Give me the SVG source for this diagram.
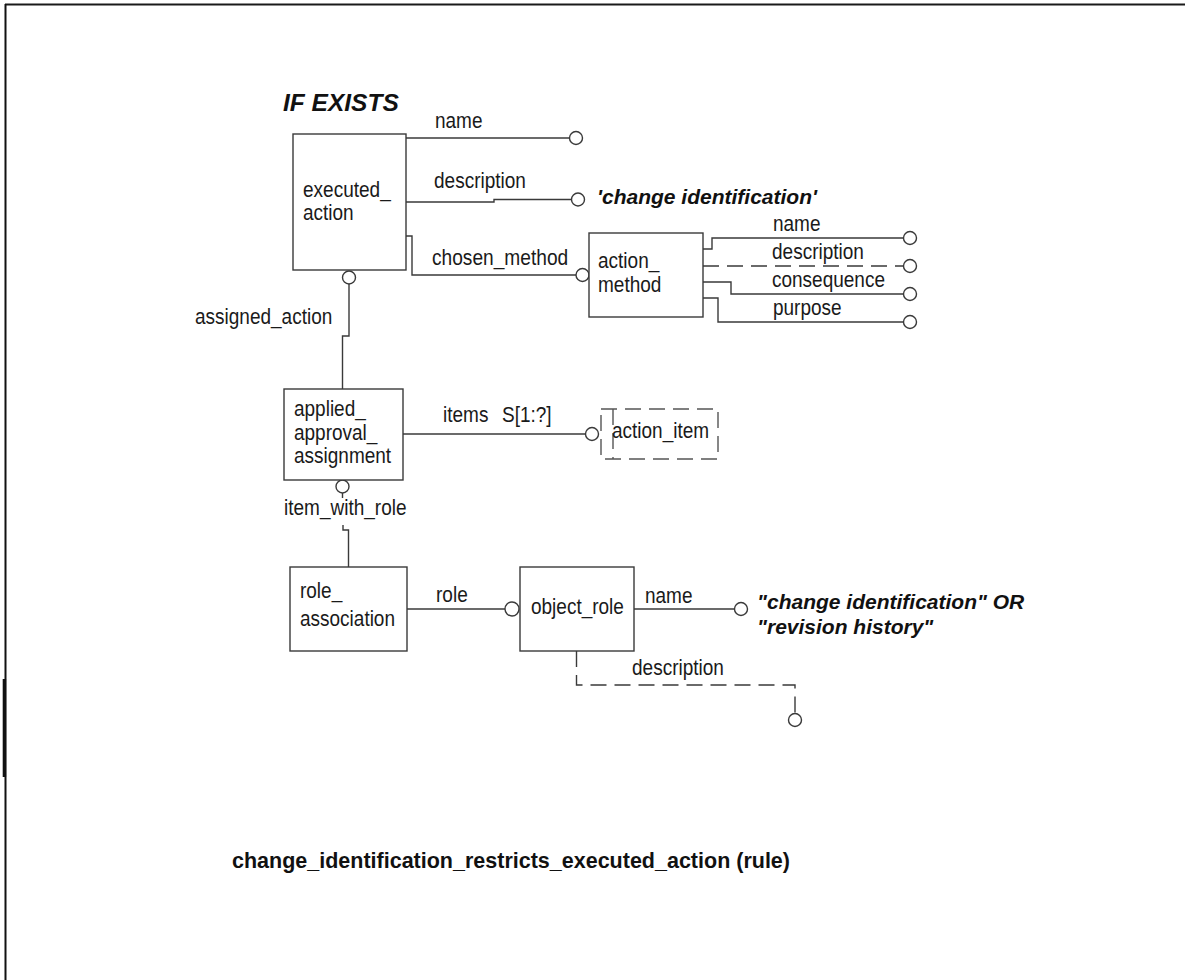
<svg xmlns="http://www.w3.org/2000/svg" width="1185" height="980" viewBox="0 0 1185 980">
  <style>
    .box { fill: #ffffff; stroke: #3a3a3a; stroke-width: 1.4; }
    .sel { fill: none; stroke: #555555; stroke-width: 1.4; stroke-dasharray: 16 8; }
    .ln { fill: none; stroke: #3a3a3a; stroke-width: 1.4; }
    .dash { stroke-dasharray: 16 8; }
    .end { fill: #ffffff; stroke: #3a3a3a; stroke-width: 1.4; }
    .t { font-family: "Liberation Sans Narrow", "Liberation Sans", Arial, sans-serif; font-size: 22px; fill: #1a1a1a; }
    .bi { font-family: "Liberation Sans", Arial, sans-serif; font-size: 21px; font-weight: bold; font-style: italic; fill: #111111; }
    .hdr { font-family: "Liberation Sans", Arial, sans-serif; font-size: 24.5px; font-weight: bold; font-style: italic; fill: #111111; }
    .cap { font-family: "Liberation Sans", Arial, sans-serif; font-size: 21.5px; font-weight: bold; fill: #111111; }
  </style>

  <rect width="1185" height="980" fill="#ffffff"/>

  <!-- page frame -->
  <g id="frame">
    <line x1="5" y1="4.5" x2="1185" y2="4.5" stroke="#1a1a1a" stroke-width="2"/>
    <line x1="5.5" y1="4" x2="5.5" y2="980" stroke="#111111" stroke-width="2"/>
    <rect x="2.7" y="679" width="3.4" height="98" fill="#111111"/>
  </g>

  <text class="hdr" x="283" y="111">IF EXISTS</text>

  <!-- connectors -->
  <g id="connectors">
    <path class="ln" d="M406,138 H569.5"/>
    <path class="ln" d="M406,202 H494 V199.5 H571.5"/>
    <path class="ln" d="M406,236 H412 V275 H576"/>
    <path class="ln" d="M349,284 V336 H342.5 V389"/>
    <path class="ln" d="M703,249 H712 V238 H903.5"/>
    <path class="ln dash" d="M703,266 H903.5"/>
    <path class="ln" d="M703,282 H731 V294 H903.5"/>
    <path class="ln" d="M703,298 H718 V322 H903.5"/>
    <path class="ln" d="M403,434 H585.5"/>
    <path class="ln" d="M342.5,493 V498"/>
    <path class="ln" d="M343,525 V530 H348.5 V567"/>
    <path class="ln" d="M407,609 H505"/>
    <path class="ln" d="M634,609 H734.5"/>
    <path class="ln dash" d="M576.5,651 V685 H795 V713.5"/>

    <circle class="end" cx="576" cy="138" r="6.5"/>
    <circle class="end" cx="578" cy="199.5" r="6.5"/>
    <circle class="end" cx="582.5" cy="275" r="6.5"/>
    <circle class="end" cx="349" cy="277.5" r="6.5"/>
    <circle class="end" cx="910" cy="238" r="6.5"/>
    <circle class="end" cx="910" cy="266" r="6.5"/>
    <circle class="end" cx="910" cy="294" r="6.5"/>
    <circle class="end" cx="910" cy="322" r="6.5"/>
    <circle class="end" cx="592" cy="434" r="6.5"/>
    <circle class="end" cx="342.5" cy="486.5" r="6.5"/>
    <circle class="end" cx="512" cy="609" r="7"/>
    <circle class="end" cx="741" cy="609" r="6.5"/>
    <circle class="end" cx="795" cy="720" r="6.5"/>

    <!-- attribute and role labels -->
    <text class="t" x="435" y="128" textLength="47.5" lengthAdjust="spacingAndGlyphs">name</text>
    <text class="t" x="434" y="188" textLength="91.9" lengthAdjust="spacingAndGlyphs">description</text>
    <text class="t" x="432" y="265" textLength="136.2" lengthAdjust="spacingAndGlyphs">chosen_method</text>
    <text class="t" x="195" y="324" textLength="137.3" lengthAdjust="spacingAndGlyphs">assigned_action</text>
    <text class="t" x="773" y="231" textLength="47.5" lengthAdjust="spacingAndGlyphs">name</text>
    <text class="t" x="772" y="259" textLength="91.9" lengthAdjust="spacingAndGlyphs">description</text>
    <text class="t" x="772" y="287" textLength="113" lengthAdjust="spacingAndGlyphs">consequence</text>
    <text class="t" x="773" y="315" textLength="68.6" lengthAdjust="spacingAndGlyphs">purpose</text>
    <text class="t" x="443" y="422" textLength="45.4" lengthAdjust="spacingAndGlyphs">items</text>
    <text class="t" x="502" y="422" textLength="49.6" lengthAdjust="spacingAndGlyphs">S[1:?]</text>
    <text class="t" x="284" y="515" textLength="122.5" lengthAdjust="spacingAndGlyphs">item_with_role</text>
    <text class="t" x="436" y="602" textLength="31.7" lengthAdjust="spacingAndGlyphs">role</text>
    <text class="t" x="645" y="603" textLength="47.5" lengthAdjust="spacingAndGlyphs">name</text>
    <text class="t" x="632" y="675" textLength="91.9" lengthAdjust="spacingAndGlyphs">description</text>

    <!-- constrained values -->
    <text class="bi" x="597" y="204">'change identification'</text>
    <text class="bi" x="757" y="609">"change identification" OR</text>
    <text class="bi" x="757" y="634">"revision history"</text>
  </g>

  <!-- entities -->
  <g id="executed_action">
    <rect class="box" x="293" y="134" width="113" height="136"/>
    <text class="t" x="303" y="197" textLength="87.7" lengthAdjust="spacingAndGlyphs">executed_</text>
    <text class="t" x="303" y="220" textLength="50.7" lengthAdjust="spacingAndGlyphs">action</text>
  </g>

  <g id="action_method">
    <rect class="box" x="589" y="233" width="114" height="84"/>
    <text class="t" x="598" y="268" textLength="61.3" lengthAdjust="spacingAndGlyphs">action_</text>
    <text class="t" x="598" y="292" textLength="63.4" lengthAdjust="spacingAndGlyphs">method</text>
  </g>

  <g id="applied_approval_assignment">
    <rect class="box" x="284" y="389" width="119" height="91"/>
    <text class="t" x="294" y="416" textLength="71.8" lengthAdjust="spacingAndGlyphs">applied_</text>
    <text class="t" x="294" y="440" textLength="83.4" lengthAdjust="spacingAndGlyphs">approval_</text>
    <text class="t" x="294" y="463" textLength="97.1" lengthAdjust="spacingAndGlyphs">assignment</text>
  </g>

  <g id="action_item">
    <rect class="sel" x="601" y="409" width="117" height="50"/>
    <line class="sel" x1="613" y1="409" x2="613" y2="459"/>
    <text class="t" x="612" y="438" textLength="97.1" lengthAdjust="spacingAndGlyphs">action_item</text>
  </g>

  <g id="role_association">
    <rect class="box" x="290" y="567" width="117" height="84"/>
    <text class="t" x="300" y="598" textLength="42.2" lengthAdjust="spacingAndGlyphs">role_</text>
    <text class="t" x="300" y="626" textLength="95" lengthAdjust="spacingAndGlyphs">association</text>
  </g>

  <g id="object_role">
    <rect class="box" x="520" y="567" width="114" height="84"/>
    <text class="t" x="531" y="614" textLength="92.9" lengthAdjust="spacingAndGlyphs">object_role</text>
  </g>

  <text class="cap" x="232" y="868">change_identification_restricts_executed_action (rule)</text>
</svg>
